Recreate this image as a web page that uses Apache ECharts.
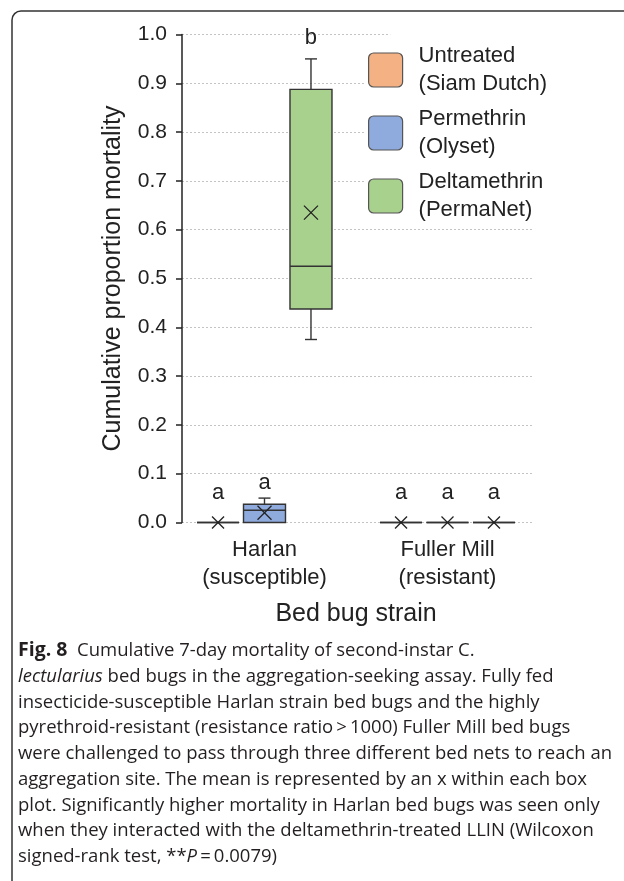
<!DOCTYPE html>
<html><head><meta charset="utf-8">
<script src="https://cdn.jsdelivr.net/npm/echarts@6/dist/echarts.min.js"></script>
<style>html,body{margin:0;padding:0;background:#fff}#c{width:624px;height:881px}</style>
</head><body><div id="c"></div>
<script>
// ---- data ----
const strains = ['Harlan\n(susceptible)', 'Fuller Mill\n(resistant)'];
const treatments = ['Untreated\n(Siam Dutch)', 'Permethrin\n(Olyset)', 'Deltamethrin\n(PermaNet)'];
// box values per strain: [min, Q1, median, Q3, max]
const untreatedBox    = [[0, 0, 0, 0, 0], [0, 0, 0, 0, 0]];
const permethrinBox   = [[0, 0, 0.025, 0.0375, 0.05], [0, 0, 0, 0, 0]];
const deltamethrinBox = [[0.375, 0.4375, 0.525, 0.8875, 0.95], [0, 0, 0, 0, 0]];
// means (x markers)
const untreatedMean    = [0, 0];
const permethrinMean   = [0.02, 0];
const deltamethrinMean = [0.635, 0];
// significance letters and the height at which they sit
const untreatedLetters    = ['a', 'a'];
const permethrinLetters   = ['a', 'a'];
const deltamethrinLetters = ['b', 'a'];
const untreatedLetterY    = [0.06, 0.06];
const permethrinLetterY   = [0.081, 0.06];
const deltamethrinLetterY = [0.993, 0.06];
const yMin = 0, yMax = 1, yStep = 0.1;

const colors = ['#F4B183', '#8FAADC', '#A9D18E'];
const FONT = '"Liberation Sans", Arial, Helvetica, sans-serif';
const INK = '#222';
const SPACING = 0.254; // box centre step as share of band width

const boxes = [untreatedBox, permethrinBox, deltamethrinBox];
const means = [untreatedMean, permethrinMean, deltamethrinMean];
const letters = [untreatedLetters, permethrinLetters, deltamethrinLetters];
const letterYs = [untreatedLetterY, permethrinLetterY, deltamethrinLetterY];

function makeRender(k) {
  return function (params, api) {
    const c = api.value(0);
    const bw = api.size([1, 0])[0];
    const cx = api.coord([c, 0])[0] + (k - 1) * bw * SPACING;
    const Y = v => api.coord([c, v])[1];
    const mn = api.value(1), q1 = api.value(2), md = api.value(3), q3 = api.value(4), mx = api.value(5);
    const mean = api.value(6), ly = api.value(7);
    const hw = 21, cap = 6, xs = 7;
    const st = { stroke: '#333', lineWidth: 1.4, fill: null };
    const ch = [];
    if (mx > q3) {
      ch.push({ type: 'line', shape: { x1: cx, y1: Y(q3), x2: cx, y2: Y(mx) }, style: st });
      ch.push({ type: 'line', shape: { x1: cx - cap, y1: Y(mx), x2: cx + cap, y2: Y(mx) }, style: st });
    }
    if (mn < q1) {
      ch.push({ type: 'line', shape: { x1: cx, y1: Y(q1), x2: cx, y2: Y(mn) }, style: st });
      ch.push({ type: 'line', shape: { x1: cx - cap, y1: Y(mn), x2: cx + cap, y2: Y(mn) }, style: st });
    }
    ch.push({ type: 'rect', shape: { x: cx - hw, y: Y(q3), width: 2 * hw, height: Y(q1) - Y(q3) },
      style: { fill: api.visual('color'), stroke: '#333', lineWidth: 1.4 } });
    ch.push({ type: 'line', shape: { x1: cx - hw, y1: Y(md), x2: cx + hw, y2: Y(md) }, style: st });
    const my = Y(mean);
    const s = mean > 0 ? xs : 6;
    ch.push({ type: 'line', shape: { x1: cx - s, y1: my - s, x2: cx + s, y2: my + s }, style: { stroke: '#222', lineWidth: 1.3 } });
    ch.push({ type: 'line', shape: { x1: cx - s, y1: my + s, x2: cx + s, y2: my - s }, style: { stroke: '#222', lineWidth: 1.3 } });
    ch.push({ type: 'text', x: cx, y: Y(ly), style: { text: letters[k][params.dataIndex], fill: INK,
      font: '22px ' + FONT, align: 'center', verticalAlign: 'middle' } });
    return { type: 'group', children: ch };
  };
}

const series = treatments.map((name, k) => ({
  name, type: 'custom', xAxisIndex: 0, yAxisIndex: 0,
  itemStyle: { color: colors[k] },
  renderItem: makeRender(k),
  encode: { x: 0, y: [1, 2, 3, 4, 5] },
  data: strains.map((s, i) => [i].concat(boxes[k][i], [means[k][i], letterYs[k][i]])),
  z: 5
}));

const caption =
  '{b|Fig. 8}  Cumulative 7-day mortality of second-instar C.\n' +
  '{i|lectularius} bed bugs in the aggregation-seeking assay. Fully fed\n' +
  'insecticide-susceptible Harlan strain bed bugs and the highly\n' +
  'pyrethroid-resistant (resistance ratio\u2009>\u20091000) Fuller Mill bed bugs\n' +
  'were challenged to pass through three different bed nets to reach an\n' +
  'aggregation site. The mean is represented by an x within each box\n' +
  'plot. Significantly higher mortality in Harlan bed bugs was seen only\n' +
  'when they interacted with the deltamethrin-treated LLIN (Wilcoxon\n' +
  'signed-rank test, **{i|P}\u2009=\u20090.0079)';
const CAP_FONT = '"Open Sans", "Noto Sans", sans-serif';
const CAP_SIZE = 18.5, CAP_LH = 25.75;

const chart = echarts.init(document.getElementById('c'), null, { renderer: 'canvas' });
chart.setOption({
  backgroundColor: '#fff',
  animation: false,
  grid: [
    { left: 173, top: 34.5, width: 366, height: 488 },
    { left: 182, top: 34.5, width: 352, height: 488 }
  ],
  xAxis: [
    { gridIndex: 0, type: 'category', data: strains,
      axisLine: { show: false }, axisTick: { show: false }, splitLine: { show: false },
      axisLabel: { fontSize: 22, lineHeight: 28, margin: 13, color: INK, fontFamily: FONT, interval: 0 },
      name: 'Bed bug strain', nameLocation: 'middle', nameGap: 79,
      nameTextStyle: { fontSize: 25, color: INK, fontFamily: FONT } },
    { gridIndex: 1, type: 'category', data: strains, show: false }
  ],
  yAxis: [
    { gridIndex: 0, type: 'value', min: yMin, max: yMax, interval: yStep, show: false },
    { gridIndex: 1, type: 'value', min: yMin, max: yMax, interval: yStep,
      axisLine: { show: true, lineStyle: { color: INK, width: 1.5 } },
      axisTick: { show: true, length: 6, lineStyle: { color: INK, width: 1.5 } },
      axisLabel: { formatter: v => v.toFixed(1), fontSize: 21, color: INK, fontFamily: FONT, margin: 15 },
      splitLine: { show: true, lineStyle: { color: '#c4c4c4', width: 1, type: [2, 2] } },
      name: 'Cumulative proportion mortality', nameLocation: 'middle', nameGap: 56,
      nameTextStyle: { fontSize: 25, color: INK, fontFamily: FONT } }
  ],
  legend: {
    orient: 'vertical', left: 365, top: 33, padding: [9, 40, 5, 3],
    backgroundColor: '#fff', borderRadius: 34,
    itemWidth: 34, itemHeight: 34, itemGap: 7,
    icon: 'path://M5,0H29A5,5,0,0,1,34,5V29A5,5,0,0,1,29,34H5A5,5,0,0,1,0,29V5A5,5,0,0,1,5,0Z',
    itemStyle: { borderColor: '#555', borderWidth: 1.2 },
    textStyle: { fontSize: 22, lineHeight: 28, color: INK, fontFamily: FONT, padding: [0, 0, 0, 11] },
    data: treatments, selectedMode: false
  },
  graphic: [
    { type: 'rect', shape: { x: 12, y: 11, width: 800, height: 1000, r: 9 }, z: 0,
      style: { fill: null, stroke: '#333', lineWidth: 1.5 }, silent: true },
    { type: 'text', x: 18, y: 638, z: 10,
      style: { text: caption, fill: '#231f20', font: CAP_SIZE + 'px ' + CAP_FONT, lineHeight: CAP_LH,
        verticalAlign: 'top',
        rich: {
          b: { fontWeight: 'bold', fontSize: CAP_SIZE + 1, fontFamily: CAP_FONT, lineHeight: CAP_LH, fill: '#231f20' },
          i: { fontStyle: 'italic', fontSize: CAP_SIZE, fontFamily: CAP_FONT, lineHeight: CAP_LH, fill: '#231f20' }
        } } }
  ],
  series
});
</script></body></html>
